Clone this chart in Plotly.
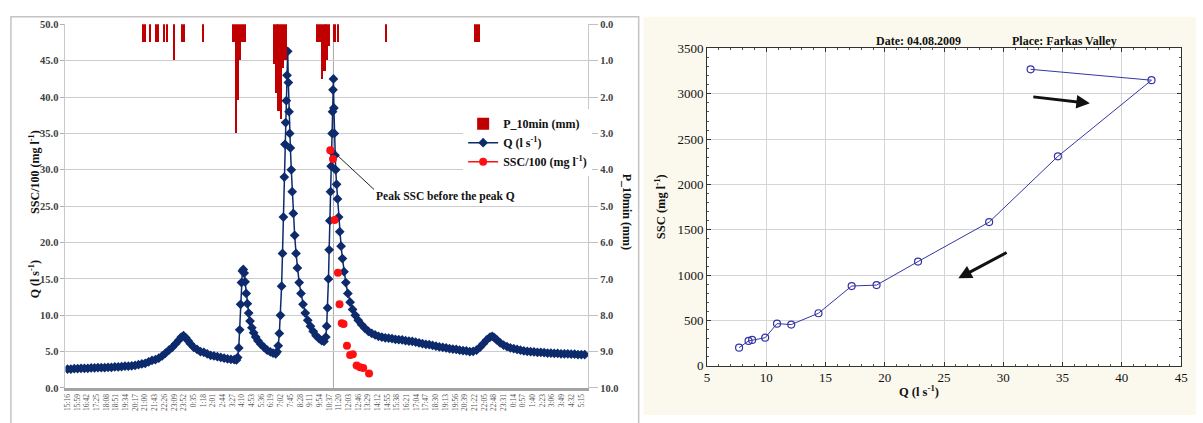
import plotly.graph_objects as go

W, H = 1203, 423
SERIF = "Liberation Serif"

# ---------------- Storm event hydrograph (minutes after 15:16) ----------------
TICK_LABELS = [
    "15:16", "15:59", "16:42", "17:25", "18:08", "18:51", "19:34", "20:17", "21:00",
    "21:43", "22:26", "23:09", "23:52", "0:35", "1:18", "2:01", "2:44", "3:27",
    "4:10", "4:53", "5:36", "6:19", "7:02", "7:45", "8:28", "9:11", "9:54",
    "10:37", "11:20", "12:03", "12:46", "13:29", "14:12", "14:55", "15:38", "16:21",
    "17:04", "17:47", "18:30", "19:13", "19:56", "20:39", "21:22", "22:05", "22:48",
    "23:31", "0:14", "0:57", "1:40", "2:23", "3:06", "3:49", "4:32", "5:15",
]
TICK_STEP_MIN = 43

Q_MIN = [
    0, 15, 30, 45, 60, 75, 90, 105, 120, 135, 150, 165, 180, 195, 210, 225, 240, 255,
    270, 285, 300, 315, 330, 345, 360, 375,
    390, 405, 420, 435, 450, 465, 480, 495, 505, 515, 525, 535, 545, 560, 575, 590,
    605, 620, 635, 650, 665, 680, 695, 710, 725, 740, 750,
    755, 760, 764, 768, 772, 776, 780, 784, 788, 793, 798, 804, 810, 818, 826, 835,
    845, 858, 872, 886, 900, 912, 924,
    930, 935, 940, 945, 950, 954, 958, 962, 965, 968, 971, 974, 977, 980, 983, 986,
    989, 993, 997, 1002, 1008, 1014, 1020, 1028, 1036, 1045, 1055, 1066, 1078, 1090,
    1103, 1116, 1128, 1138,
    1146, 1150, 1154, 1158, 1161, 1164, 1167, 1170, 1172, 1174, 1176, 1178, 1180,
    1182, 1184, 1187, 1190, 1194, 1198, 1203, 1208, 1214, 1220, 1227, 1235, 1244,
    1254, 1265, 1277, 1290, 1305, 1320, 1335, 1350, 1365, 1380, 1395, 1410,
    1425, 1440, 1455, 1470, 1485, 1500, 1515, 1530, 1545, 1560, 1575, 1590, 1605,
    1620, 1635, 1650, 1665, 1680, 1695, 1710, 1725, 1740, 1755, 1770, 1785, 1800,
    1815, 1830, 1845, 1860, 1875, 1885, 1895, 1905, 1920, 1935, 1950, 1965, 1980,
    1995, 2010, 2025, 2040, 2055, 2070, 2085, 2100, 2115, 2130, 2145, 2160, 2175,
    2190, 2205, 2220, 2235, 2250, 2265, 2280, 2295,
]
Q_FLOW = [
    2.6, 2.6, 2.65, 2.65, 2.7, 2.7, 2.7, 2.75, 2.75, 2.8, 2.8, 2.8, 2.85, 2.85, 2.9, 2.9,
    2.95, 3.0, 3.0, 3.05, 3.1, 3.2, 3.3, 3.4, 3.6, 3.8,
    3.9, 4.1, 4.4, 4.8, 5.2, 5.6, 6.1, 6.6, 7.0, 7.2, 6.9, 6.5, 6.1, 5.6, 5.3, 5.0,
    4.9, 4.7, 4.5, 4.4, 4.3, 4.2, 4.1, 4.0, 3.95, 3.9, 3.85,
    4.2, 5.5, 8.0, 11.5, 14.5, 16.1, 16.3, 15.8, 14.6, 13.0, 11.6, 10.3, 9.2, 8.3, 7.6,
    7.0, 6.5, 6.0, 5.6, 5.2, 4.95, 4.8, 4.7,
    5.0, 5.8, 7.5, 10.0, 14.0, 18.5, 23.5, 29.0, 33.5, 36.5, 39.5, 43.0, 46.3, 42.0,
    38.0, 35.0, 33.0, 30.0, 27.0, 24.0, 21.0, 18.5, 16.5, 14.5, 13.0, 11.5, 10.3, 9.3,
    8.5, 7.8, 7.2, 6.8, 6.5, 6.4,
    7.0, 8.5, 11.0, 15.0, 19.0, 23.0, 27.0, 30.5, 32.5, 35.0, 38.0, 41.0, 42.5,
    38.5, 35.0, 32.0, 30.0, 28.0, 26.0, 23.5, 21.5, 19.5, 17.8, 16.0, 14.5, 13.0,
    11.8, 10.8, 10.0, 9.3, 8.7, 8.2, 7.8, 7.5, 7.3, 7.1, 7.0, 6.9,
    6.85, 6.8, 6.7, 6.65, 6.6, 6.5, 6.45, 6.4, 6.3, 6.2, 6.1, 6.0, 5.95,
    5.85, 5.75, 5.65, 5.6, 5.5, 5.4, 5.35, 5.3, 5.2, 5.15, 5.1, 5.0, 5.05,
    5.2, 5.6, 6.1, 6.6, 7.0, 7.1, 6.9, 6.6, 6.2, 5.9, 5.7, 5.5, 5.4,
    5.3, 5.2, 5.1, 5.05, 5.0, 4.95, 4.9, 4.9, 4.85, 4.8, 4.8, 4.75, 4.75,
    4.7, 4.7, 4.7, 4.65, 4.65, 4.6, 4.6, 4.6,
]

SSC_MIN = [1166, 1178, 1185, 1200, 1207, 1217, 1225, 1240, 1254, 1266, 1283, 1298, 1312, 1338]
SSC_100 = [32.7, 31.5, 23.1, 15.85, 11.5, 8.9, 8.8, 5.8, 4.55, 4.65, 3.1, 2.85, 2.75, 2.0]

P_MIN = [339, 348, 370, 396, 406, 432, 446, 476, 510, 520, 605,
         740, 750, 760, 770, 780, 790,
         920, 930, 940, 950, 960, 970,
         1113, 1123, 1133, 1143, 1153, 1163, 1188, 1205, 1416,
         1810, 1820, 1830]
P_MM = [0.5, 0.5, 0.5, 0.5, 0.5, 0.5, 0.5, 1.0, 0.5, 0.5, 0.5,
        0.5, 3.0, 2.1, 1.0, 0.5, 0.5,
        1.1, 1.9, 2.4, 2.6, 1.2, 1.0,
        0.5, 0.5, 1.5, 1.3, 1.0, 0.6, 0.5, 0.5, 0.5,
        0.5, 0.5, 0.5]

PEAK_Q_MIN = 1180  # time of the third discharge peak

# ---------------- Q–SSC hysteresis loop, 04.08.2009 ----------------
LOOP_Q = [32.3, 42.5, 34.6, 28.8, 22.8, 19.3, 17.2, 14.4, 12.1, 10.9, 9.9, 8.8, 8.5, 7.7]
LOOP_SSC = [3270, 3150, 2310, 1585, 1150, 890, 880, 580, 455, 465, 310, 285, 275, 200]


def px(x):
    return x / W


def py(y):
    return 1 - y / H


NAVY = "#0d2a6c"
RED = "#ff1010"
BARRED = "#c00000"
LOOPBLUE = "#3535a5"

fig = go.Figure()

fig.add_trace(go.Bar(
    x=P_MIN, y=P_MM, yaxis="y2", width=8, marker=dict(color=BARRED, line=dict(width=0)),
    name="P_10min (mm)", legendgroup="p",
))
fig.add_trace(go.Scatter(
    x=Q_MIN, y=Q_FLOW, mode="lines+markers", name="Q (l s<sup>-1</sup>)", legendgroup="q",
    line=dict(color=NAVY, width=1.5),
    marker=dict(symbol="diamond", size=7.5, color=NAVY),
))
fig.add_trace(go.Scatter(
    x=SSC_MIN, y=SSC_100, mode="markers", showlegend=False,
    marker=dict(symbol="circle", size=8, color=RED),
))
fig.add_trace(go.Scatter(
    x=[None], y=[None], mode="lines+markers", name="SSC/100 (mg l<sup>-1</sup>)",
    legendgroup="s", line=dict(color=RED, width=1.5),
    marker=dict(symbol="circle", size=8, color=RED),
))

fig.add_trace(go.Scatter(
    x=LOOP_Q, y=LOOP_SSC, xaxis="x2", yaxis="y3", mode="lines+markers", showlegend=False,
    line=dict(color=LOOPBLUE, width=1),
    marker=dict(symbol="circle-open", size=7, color=LOOPBLUE, line=dict(width=1.2)),
))

tick_vals = [i * TICK_STEP_MIN for i in range(len(TICK_LABELS))]
tick_font = dict(family=SERIF, size=10.5, color="#404040", weight="bold")

shapes = [
    # cream panel behind the hysteresis chart
    dict(type="rect", xref="paper", yref="paper", x0=px(646), x1=1, y0=0, y1=py(10),
         fillcolor="#fbf9ee", line=dict(width=0), layer="below"),
    dict(type="rect", xref="paper", yref="paper", x0=px(710), x1=px(1188), y0=py(372), y1=py(43),
         fillcolor="white", line=dict(width=0), layer="below"),
    # frame around the hydrograph panel
    dict(type="rect", xref="paper", yref="paper", x0=px(8), x1=px(641), y0=-0.05, y1=py(10),
         fillcolor="rgba(0,0,0,0)", line=dict(color="#c4c4c4", width=1.5), layer="below"),
    # marker of the peak discharge time
    dict(type="line", xref="x", yref="y domain", x0=PEAK_Q_MIN, x1=PEAK_Q_MIN, y0=0, y1=0.995,
         line=dict(color="#a8a8a8", width=1), layer="below"),
    # leader line for the peak SSC note
    dict(type="line", xref="x", yref="y", x0=1190, y0=32.2, x1=1360, y1=27.3,
         line=dict(color="#222", width=1)),
]

ann_font = dict(family=SERIF, size=12, color="#111", weight="bold")
annotations = [
    dict(text="SSC/100 (mg l<sup>-1</sup>)", x=px(22), y=py(125), xref="paper", yref="paper",
         textangle=-90, showarrow=False, font=ann_font),
    dict(text="Q (l s<sup>-1</sup>)", x=px(22), y=py(282), xref="paper", yref="paper",
         textangle=-90, showarrow=False, font=ann_font),
    dict(text="P_10min (mm)", x=px(629), y=py(212), xref="paper", yref="paper",
         textangle=90, showarrow=False, font=ann_font),
    dict(text="Peak SSC before the peak Q", x=px(374), y=py(196), xref="paper", yref="paper",
         xanchor="left", showarrow=False, font=dict(family=SERIF, size=11.5, color="#111", weight="bold")),
    # hysteresis chart header and titles
    dict(text="Date: 04.08.2009", x=px(968), y=py(26), xref="paper", yref="paper",
         showarrow=False, font=dict(family=SERIF, size=12, color="#111", weight="bold")),
    dict(text="Place: Farkas Valley", x=px(1125), y=py(26), xref="paper", yref="paper",
         showarrow=False, font=dict(family=SERIF, size=12, color="#111", weight="bold")),
    dict(text="SSC (mg l<sup>-1</sup>)", x=px(662), y=py(207), xref="paper", yref="paper",
         textangle=-90, showarrow=False, font=dict(family=SERIF, size=12.5, color="#111", weight="bold")),
    dict(text="Q (l s<sup>-1</sup>)", x=px(946), y=py(409), xref="paper", yref="paper",
         showarrow=False, font=dict(family=SERIF, size=12.5, color="#111", weight="bold")),
    # direction of the loop
    dict(text="", x=37.3, y=2895, xref="x2", yref="y3", ax=32.4, ay=2968, axref="x2", ayref="y3",
         showarrow=True, arrowhead=2, arrowsize=0.9, arrowwidth=3, arrowcolor="#111"),
    dict(text="", x=26.2, y=965, xref="x2", yref="y3", ax=30.4, ay=1258, axref="x2", ayref="y3",
         showarrow=True, arrowhead=2, arrowsize=0.9, arrowwidth=3, arrowcolor="#111"),
]

fig.update_layout(
    width=W, height=H, autosize=False,
    margin=dict(l=0, r=0, t=0, b=0),
    paper_bgcolor="white", plot_bgcolor="rgba(0,0,0,0)",
    bargap=0, barmode="overlay",
    font=dict(family=SERIF, color="#222"),
    xaxis=dict(
        domain=[px(63), px(590)], range=[-9, 2310],
        tickmode="array", tickvals=tick_vals, ticktext=TICK_LABELS, tickangle=-90,
        tickfont=dict(family=SERIF, size=7.5, color="#555"),
        showgrid=False, zeroline=False, ticks="",
        showline=True, linecolor="#a4a4a4", linewidth=3, anchor="y",
    ),
    yaxis=dict(
        domain=[py(395), py(18)], range=[0, 50], dtick=5, tickformat=".1f",
        tickfont=tick_font, showgrid=True, gridcolor="#cccccc", gridwidth=1,
        zeroline=False, ticks="outside", ticklen=4, tickcolor="#b0b0b0",
        showline=True, linecolor="#c8c8c8", linewidth=1, anchor="x",
    ),
    yaxis2=dict(
        overlaying="y", side="right", range=[10, 0], dtick=1, tickformat=".1f",
        tickfont=tick_font, showgrid=False, zeroline=False,
        ticks="outside", ticklen=9, tickcolor="#c0c0c0",
        showline=True, linecolor="#c8c8c8", linewidth=1, anchor="x",
    ),
    xaxis2=dict(
        domain=[px(710), px(1188)], range=[5, 45], dtick=5, anchor="y3",
        tickfont=dict(family=SERIF, size=13, color="#111"),
        showgrid=True, gridcolor="#d4d4d4", zeroline=False,
        showline=True, linecolor="#333", linewidth=1, mirror="ticks",
        ticks="inside", ticklen=4, tickcolor="#333",
        minor=dict(ticks="inside", ticklen=2, dtick=1, tickcolor="#555", showgrid=False),
    ),
    yaxis3=dict(
        domain=[py(372), py(43)], range=[0, 3500], dtick=500, anchor="x2",
        tickfont=dict(family=SERIF, size=13, color="#111"),
        showgrid=True, gridcolor="#d4d4d4", zeroline=False,
        showline=True, linecolor="#333", linewidth=1, mirror="ticks",
        ticks="inside", ticklen=4, tickcolor="#333",
        minor=dict(ticks="inside", ticklen=2, dtick=100, tickcolor="#555", showgrid=False),
    ),
    legend=dict(
        x=px(464), y=py(106), xanchor="left", yanchor="top",
        bgcolor="white", borderwidth=0, tracegroupgap=6, itemwidth=30,
        font=dict(family=SERIF, size=12, color="#111", weight="bold"),
        traceorder="normal",
    ),
    shapes=shapes,
    annotations=annotations,
)

fig.write_html("out.html")
